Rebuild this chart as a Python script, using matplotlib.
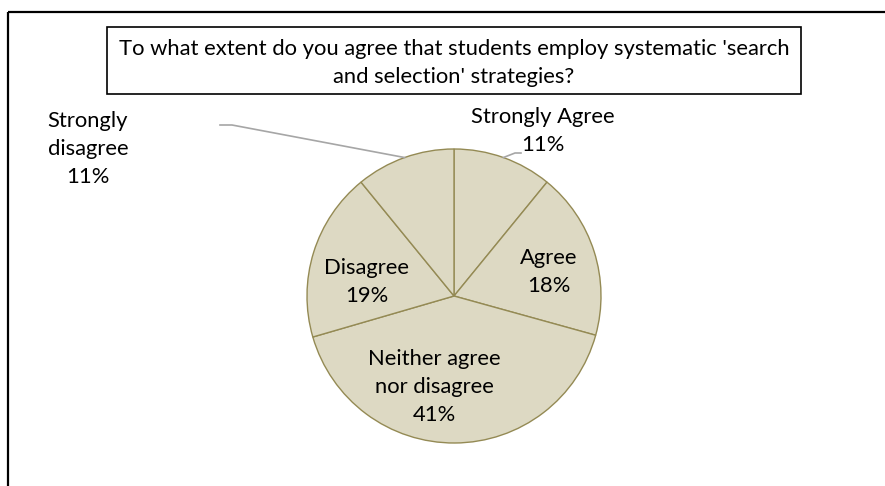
import matplotlib
matplotlib.use("Agg")
import matplotlib.pyplot as plt
from matplotlib.patches import Rectangle
import numpy as np

categories = ["Strongly Agree", "Agree", "Neither agree\nnor disagree", "Disagree", "Strongly\ndisagree"]
values = [10.9, 18.4, 41.2, 18.6, 10.9]
title = "To what extent do you agree that students employ systematic 'search\nand selection' strategies?"

W, H = 885, 486
plt.rcParams['font.family'] = ['Lato', 'DejaVu Sans']
fig = plt.figure(figsize=(W / 100, H / 100), dpi=100)
ax = fig.add_axes([0, 0, 1, 1])

def Y(py):
    return H - py

cx, cy, r = 454, Y(296), 147
wedges, _ = ax.pie(values, startangle=90, counterclock=False, center=(cx, cy), radius=r,
                   colors=['#DDD9C3'] * len(values),
                   wedgeprops=dict(edgecolor='#948A54', linewidth=1.0), frame=True)
ax.set_xlim(0, W)
ax.set_ylim(0, H)
ax.set_aspect('auto')
ax.axis('off')

fs = 15.8
ls = 1.5
pct = [f"{round(v):.0f}%" for v in values]
label_pos = [(543, 131), (549, 272), (434, 387), (367, 282), (88, 149)]
for cat, p, (px, py) in zip(categories, pct, label_pos):
    ax.text(px, Y(py), f"{cat}\n{p}", ha='center', va='center', fontsize=fs,
            linespacing=ls, color='black')

# leader lines (start at mid-angle of the wedge on the pie edge)
def mid_edge(i):
    w = wedges[i]
    ang = np.deg2rad((w.theta1 + w.theta2) / 2)
    return cx + r * np.cos(ang), cy + r * np.sin(ang)

ex, ey = mid_edge(0)
ax.plot([ex, 515, 521], [ey, Y(153), Y(153)], color='#A6A6A6', lw=1.2)
sx, sy = mid_edge(4)
ax.plot([sx, 232, 220], [sy, Y(125), Y(125)], color='#A6A6A6', lw=1.2)

# title box
ax.add_patch(Rectangle((107, Y(94)), 694, 67, fill=False, edgecolor='black', lw=1.2))
ax.text(454, Y(63), title, ha='center', va='center', fontsize=fs, linespacing=ls)

# chart frame (top and left visible)
ax.plot([8, W], [Y(12), Y(12)], color='black', lw=1.6, solid_capstyle='butt')
ax.plot([8, 8], [Y(12), 0], color='black', lw=1.6, solid_capstyle='butt')

fig.savefig("out.png", dpi=100)
